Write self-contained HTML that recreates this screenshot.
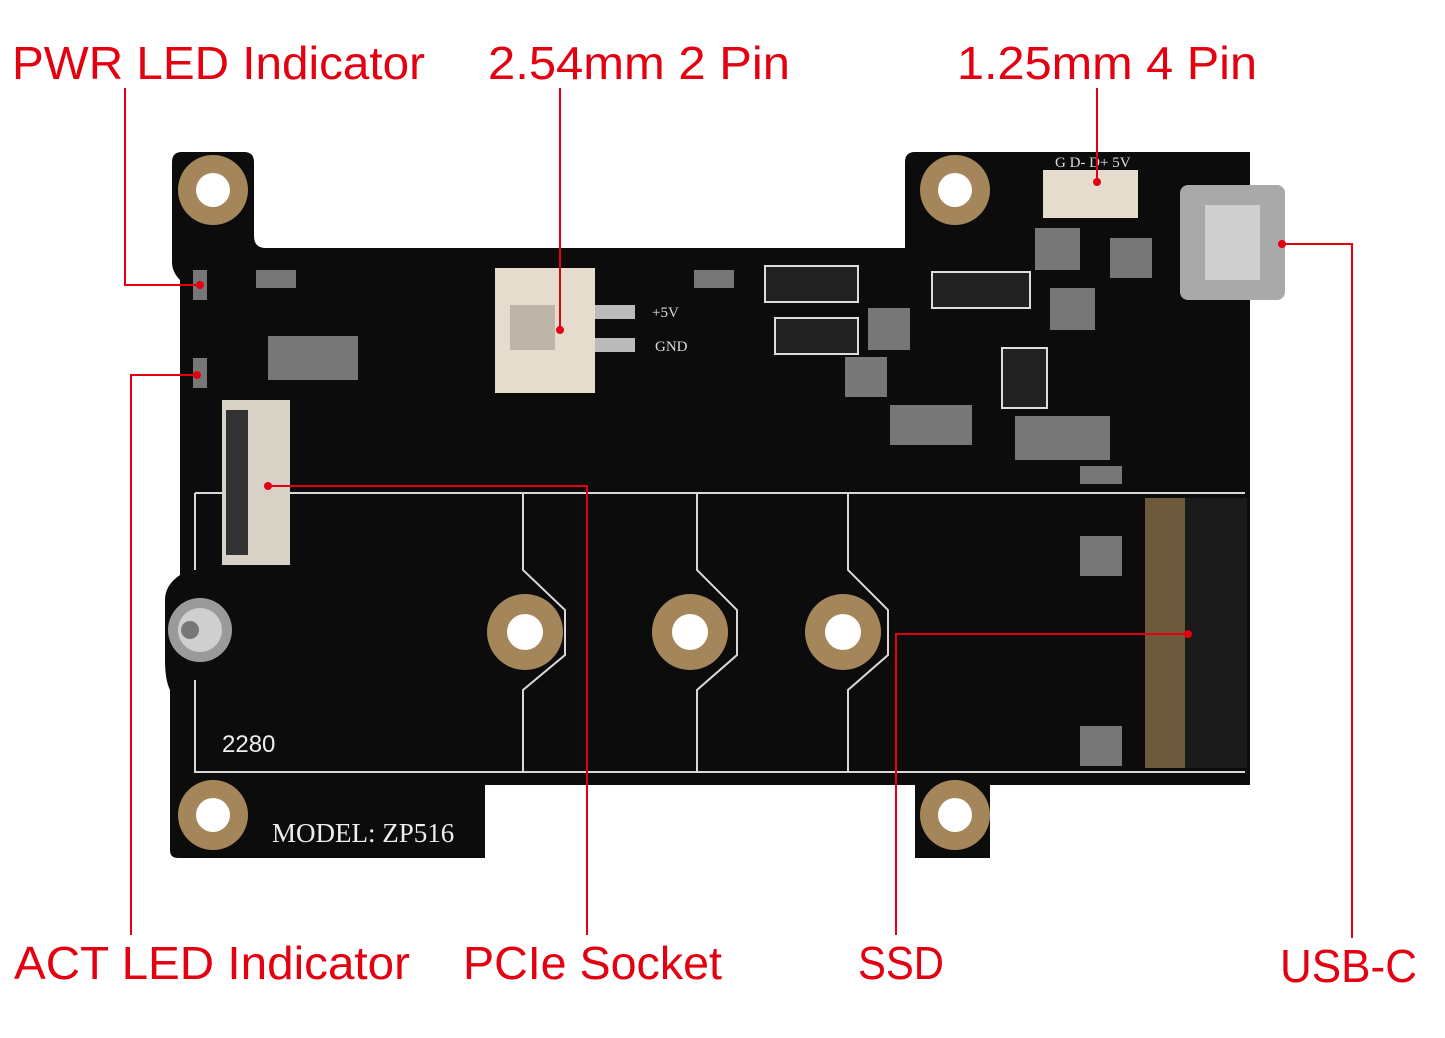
<!DOCTYPE html>
<html><head><meta charset="utf-8"><style>html,body{margin:0;padding:0;background:#fff}svg{display:block}</style></head><body>
<svg width="1445" height="1038" viewBox="0 0 1445 1038" xmlns="http://www.w3.org/2000/svg">
<rect width="1445" height="1038" fill="#fff"/>
<path d="M182 152 H244 Q254 152 254 162 V236 Q254 248 266 248 H905 V162 Q905 152 915 152 H1250 V785 H990 V858 H915 V785 H485 V858 H178 Q170 858 170 850 V690 Q165 680 165 660 V600 Q165 585 180 575 V280 Q172 272 172 262 V162 Q172 152 182 152 Z" fill="#0c0c0c"/>
<g fill="none" stroke="#d8d8d8" stroke-width="2">
<path d="M195 493 H1245 M195 493 V570 M195 680 V772 H1245"/>
<path d="M523 493 V570 L565 610 V655 L523 690 V772"/>
<path d="M697 493 V570 L737 610 V655 L697 690 V772"/>
<path d="M848 493 V570 L888 610 V655 L848 690 V772"/>
</g>
<g fill="#a5865a"><circle cx="213" cy="190" r="35"/><circle cx="955" cy="190" r="35"/><circle cx="213" cy="815" r="35"/><circle cx="955" cy="815" r="35"/><circle cx="525" cy="632" r="38"/><circle cx="690" cy="632" r="38"/><circle cx="843" cy="632" r="38"/></g>
<g fill="#fff"><circle cx="213" cy="190" r="17"/><circle cx="955" cy="190" r="17"/><circle cx="213" cy="815" r="17"/><circle cx="955" cy="815" r="17"/><circle cx="525" cy="632" r="18"/><circle cx="690" cy="632" r="18"/><circle cx="843" cy="632" r="18"/></g>
<circle cx="200" cy="630" r="32" fill="#9a9a9a"/><circle cx="200" cy="630" r="22" fill="#cfcfcf"/><circle cx="190" cy="630" r="9" fill="#777"/>
<rect x="495" y="268" width="100" height="125" fill="#e6dccd"/><rect x="510" y="305" width="45" height="45" fill="#bdb6a8"/>
<rect x="595" y="305" width="40" height="14" fill="#bbb"/><rect x="595" y="338" width="40" height="14" fill="#bbb"/>
<rect x="1043" y="170" width="95" height="48" fill="#e6dccd"/>
<rect x="1180" y="185" width="105" height="115" rx="8" fill="#a9a9a9"/><rect x="1205" y="205" width="55" height="75" fill="#cfcfcf"/>
<rect x="222" y="400" width="68" height="165" fill="#d8d2c6"/><rect x="226" y="410" width="22" height="145" fill="#333"/>
<rect x="1145" y="498" width="40" height="270" fill="#6d5a3c"/><rect x="1185" y="498" width="62" height="270" fill="#1a1a1a"/>
<g fill="#222" stroke="#ddd" stroke-width="2"><rect x="765" y="266" width="93" height="36"/><rect x="775" y="318" width="83" height="36"/><rect x="932" y="272" width="98" height="36"/><rect x="1002" y="348" width="45" height="60"/></g>
<g fill="#777"><rect x="193" y="270" width="14" height="30"/><rect x="193" y="358" width="14" height="30"/><rect x="256" y="270" width="40" height="18"/><rect x="268" y="336" width="90" height="44"/><rect x="694" y="270" width="40" height="18"/><rect x="1035" y="228" width="45" height="42"/><rect x="1110" y="238" width="42" height="40"/><rect x="1050" y="288" width="45" height="42"/><rect x="868" y="308" width="42" height="42"/><rect x="845" y="357" width="42" height="40"/><rect x="1015" y="416" width="95" height="44"/><rect x="890" y="405" width="82" height="40"/><rect x="1080" y="536" width="42" height="40"/><rect x="1080" y="726" width="42" height="40"/><rect x="1080" y="466" width="42" height="18"/></g>
<text x="222" y="752" font-family="Liberation Sans, sans-serif" font-size="24" fill="#eee">2280</text>
<text x="272" y="842" font-family="Liberation Serif, serif" font-size="27" fill="#eee">MODEL: ZP516</text>
<g font-family="Liberation Serif, serif" font-size="15" fill="#ddd"><text x="652" y="317">+5V</text><text x="655" y="351">GND</text><text x="1055" y="167">G D- D+ 5V</text></g>
<g stroke="#e30010" stroke-width="2" fill="none">
<path d="M125 88 V285 H200"/><path d="M197 375 H131 V935"/><path d="M560 88 V330"/><path d="M1097 88 V182"/><path d="M268 486 H587 V935"/><path d="M1188 634 H896 V935"/><path d="M1282 244 H1352 V938"/>
</g>
<g fill="#e30010"><circle cx="200" cy="285" r="4"/><circle cx="197" cy="375" r="4"/><circle cx="560" cy="330" r="4"/><circle cx="1097" cy="182" r="4"/><circle cx="268" cy="486" r="4"/><circle cx="1188" cy="634" r="4"/><circle cx="1282" cy="244" r="4"/></g>
<g font-family="Liberation Sans, sans-serif" font-size="46" fill="#e30010">
<text x="12" y="79" textLength="413" lengthAdjust="spacingAndGlyphs">PWR LED Indicator</text>
<text x="488" y="79" textLength="302" lengthAdjust="spacingAndGlyphs">2.54mm 2 Pin</text>
<text x="957" y="79" textLength="300" lengthAdjust="spacingAndGlyphs">1.25mm 4 Pin</text>
<text x="14" y="979" textLength="396" lengthAdjust="spacingAndGlyphs">ACT LED Indicator</text>
<text x="463" y="979" textLength="259" lengthAdjust="spacingAndGlyphs">PCIe Socket</text>
<text x="858" y="979" textLength="86" lengthAdjust="spacingAndGlyphs">SSD</text>
<text x="1280" y="982" textLength="137" lengthAdjust="spacingAndGlyphs">USB-C</text>
</g>
</svg>
</body></html>
